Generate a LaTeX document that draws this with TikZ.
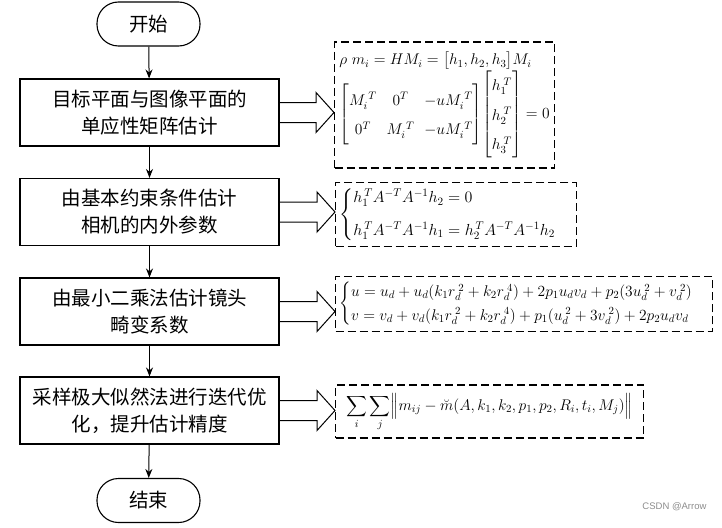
\RequirePackage{fix-cm}
\documentclass[tikz,border=0pt]{standalone}
\usepackage{amsmath}
\usepackage{fontspec}
\newfontfamily\cjk{Noto Sans CJK SC}
\newfontfamily\wmfont{Liberation Sans}
\usetikzlibrary{arrows.meta,calc}
\newcommand\bigarrow[2]{%
  \draw[blockarr] let \p1=(#1.east), \p2=(#2.west) in
    (\x1,\y1+10pt) -- (\x2-18pt,\y1+10pt) -- (\x2-18pt,\y1+20pt) -- (\x2,\y1)
    -- (\x2-18pt,\y1-20pt) -- (\x2-18pt,\y1-10pt) -- (\x1,\y1-10pt);}
\begin{document}
\begin{tikzpicture}[x=1pt,y=-1pt,
  term/.style={draw,line width=1.1pt,rounded corners=21.5pt,minimum width=103pt,minimum height=44pt,inner sep=0pt,font=\cjk\fontsize{19.5}{24}\selectfont},
  proc/.style={draw,line width=1.1pt,minimum width=259pt,minimum height=67pt,inner sep=0pt,align=center,font=\cjk\fontsize{19.5}{27}\selectfont},
  fbox/.style={draw,dash pattern=on 8pt off 4pt,line width=1.1pt,anchor=west,inner sep=4pt,align=left,font=\fontsize{15.5}{19}\selectfont},
  flow/.style={-{Stealth[length=9pt,width=7pt]},line width=1pt},
  blockarr/.style={line width=1pt,line join=miter}
]
\useasboundingbox (0,0) rectangle (722,527);
\node[term] (start) at (148.5,24) {开始};
\node[proc] (b1) at (149.5,112.5) {目标平面与图像平面的\\单应性矩阵估计};
\node[proc] (b2) at (149.5,212) {由基本约束条件估计\\相机的内外参数};
\node[proc] (b3) at (149.5,311.5) {由最小二乘法估计镜头\\畸变系数};
\node[proc] (b4) at (149.5,410.5) {采样极大似然法进行迭代优\\化，提升估计精度};
\node[term] (end) at (148.5,500.5) {结束};
\draw[flow] (start) -- (b1);
\draw[flow] (b1) -- (b2);
\draw[flow] (b2) -- (b3);
\draw[flow] (b3) -- (b4);
\draw[flow] (b4) -- (end);

\node[fbox,minimum width=220pt,minimum height=126pt] (f1) at (334,105) {%
$\rho\ m_i = HM_i = \bigl[h_1, h_2, h_3\bigr] M_i$\\[-1pt]
\renewcommand\arraystretch{1.55}%
$\begin{bmatrix} M_i^{\;T} & 0^T & -uM_i^{\;T} \\ 0^T & M_i^{\;T} & -uM_i^{\;T}\end{bmatrix}
\!\begin{bmatrix} h_1^{\;T}\\ h_2^{\;T} \\ h_3^{\;T}\end{bmatrix} = 0$};
\node[fbox,minimum width=222pt,minimum height=61pt,font=\fontsize{16}{19}\selectfont] (f2) at (335,214.5) {%
$\begin{cases} h_1^{\,T} A^{-T} A^{-1} h_2 = 0 \\[10pt] h_1^{\,T} A^{-T}A^{-1}h_1 = h_2^{\,T} A^{-T} A^{-1} h_2\end{cases}$};
\node[fbox,minimum width=377pt,minimum height=52pt] (f3) at (335,304) {%
$\begin{cases} u = u_d + u_d(k_1 r_d^{\;2} + k_2 r_d^{\;4}) + 2p_1u_dv_d + p_2(3u_d^{\;2}+v_d^{\;2}) \\[1pt]
v = v_d + v_d(k_1 r_d^{\;2} + k_2 r_d^{\;4}) + p_1(u_d^{\;2}+3v_d^{\;2})+2p_2u_dv_d\end{cases}$};
\node[fbox,minimum width=308pt,minimum height=53pt] (f4) at (335,411.5) {%
$\displaystyle\sum_i\sum_j \Bigl\| m_{ij} - \breve{m}(A,k_1,k_2,p_1,p_2,R_i,t_i,M_j)\Bigr\|$};

\bigarrow{b1}{f1}
\bigarrow{b2}{f2}
\bigarrow{b3}{f3}
\bigarrow{b4}{f4}

\node[font=\wmfont\fontsize{9.5}{11}\selectfont,text=black!45,anchor=east] (wm) at (710,507) {CSDN @Arrow};
\end{tikzpicture}
\end{document}
